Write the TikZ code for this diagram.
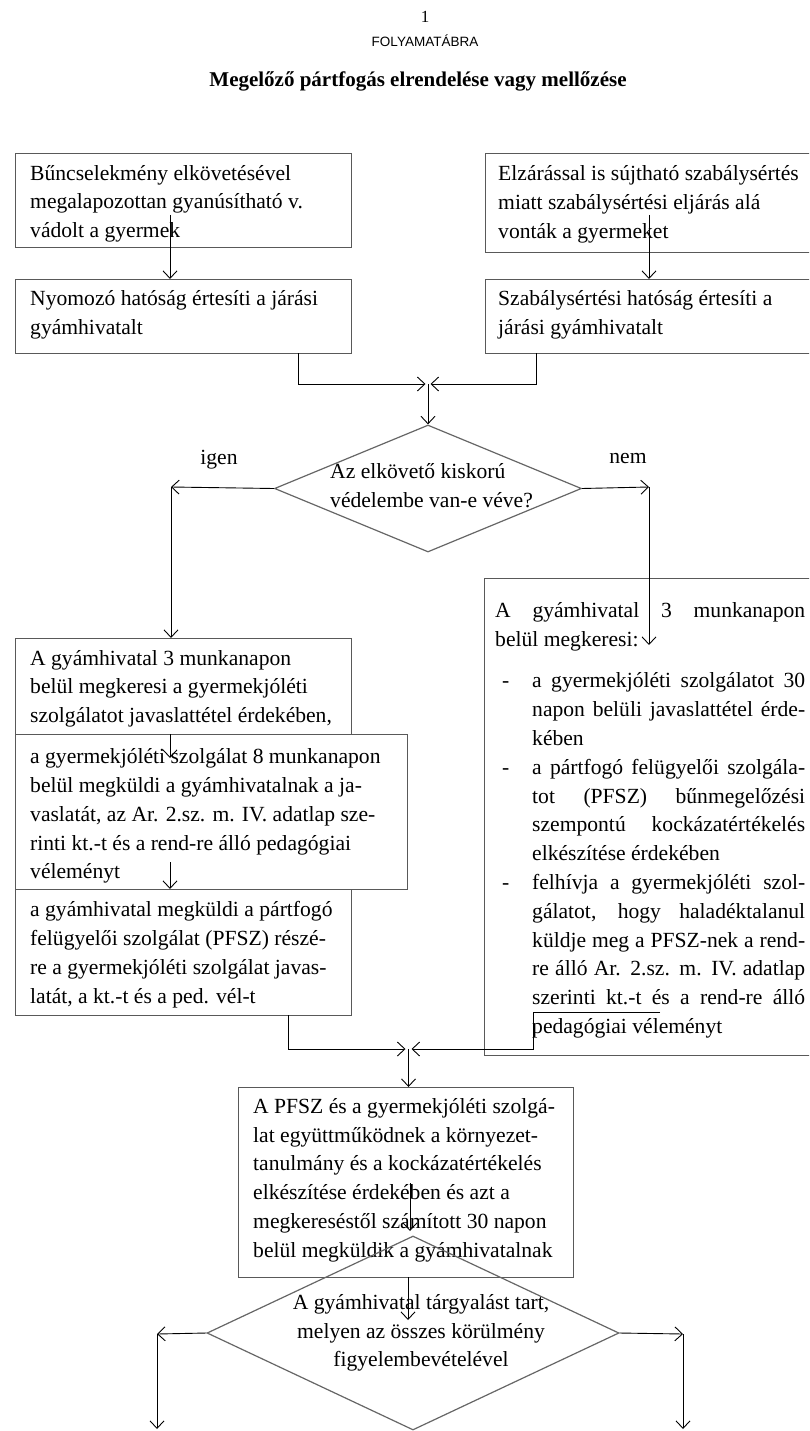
\documentclass[tikz,border=0pt]{standalone}
\usepackage{fontspec}
\setmainfont{Liberation Serif}
\newfontfamily\headsans{Liberation Sans}
\usetikzlibrary{arrows.meta,shapes.geometric,calc}
\newcommand{\bodyf}{\fontsize{21.6}{28.8}\selectfont}
\newcommand{\Fdash}[1]{\makebox[37pt][l]{\hspace*{7pt}-}\makebox[273pt][s]{#1}}
\newcommand{\Fcont}[1]{\hspace*{37pt}\makebox[273pt][s]{#1}}
\newcommand{\Flast}[1]{\hspace*{37pt}#1}
\begin{document}
\begin{tikzpicture}[x=1pt,y=-1pt,
  frame/.style={draw=black!65, line width=1.4pt, rectangle, anchor=north west, inner sep=0pt},
  txt/.style={font=\bodyf, align=left, inner sep=0pt, anchor=west},
  dia/.style={shape=diamond, draw=black!60, line width=1.2pt, inner sep=0pt},
  arr/.style={draw=black, line width=0.9pt, -{Straight Barb[length=7.5pt,width=14pt]}},
  lab/.style={font=\bodyf, inner sep=0pt}]
\useasboundingbox (0,0) rectangle (809,1431);
\fill[white] (0,0) rectangle (809,1431);
\clip (0,0) rectangle (809,1431);

% titles
\node[font=\fontsize{17}{19}\selectfont, inner sep=0pt] (num) at (425,17) {1};
\node[font=\headsans\fontsize{13.5}{16}\selectfont, inner sep=0pt] (fa) at (425,41) {FOLYAMATÁBRA};
\node[font=\bfseries\fontsize{21}{26}\selectfont, inner sep=0pt] (title) at (418,81) {Megelőző pártfogás elrendelése vagy mellőzése};

% boxes
\node[frame, minimum width=336pt, minimum height=94pt] (A) at (15,153) {};
\node[txt] (At) at ($(A.west)+(15,3)$) {Bűncselekmény elkövetésével\\megalapozottan gyanúsítható v.\\vádolt a gyermek};

\node[frame, minimum width=333pt, minimum height=99pt] (B) at (485,153) {};
\node[txt] (Bt) at ($(B.west)+(13,1)$) {Elzárással is sújtható szabálysértés\\miatt szabálysértési eljárás alá\\vonták a gyermeket};

\node[frame, minimum width=336pt, minimum height=74pt] (C) at (15,279) {};
\node[txt] (Ct) at ($(C.west)+(15,-1.5)$) {Nyomozó hatóság értesíti a járási\\gyámhivatalt};

\node[frame, minimum width=333pt, minimum height=74pt] (D) at (485,279) {};
\node[txt] (Dt) at ($(D.west)+(13,-1.5)$) {Szabálysértési hatóság értesíti a\\járási gyámhivatalt};

\node[frame, minimum width=336pt, minimum height=96pt] (E) at (15,638) {};
\node[txt] (Et) at ($(E.west)+(15,2)$) {A gyámhivatal 3 munkanapon\\belül megkeresi a gyermekjóléti\\szolgálatot javaslattétel érdekében,};

\node[frame, minimum width=392pt, minimum height=155pt] (H) at (15,734) {};
\node[txt] (Ht) at ($(H.west)+(15,4)$) {a gyermekjóléti szolgálat 8 munkanapon\\belül megküldi a gyámhivatalnak a ja-\\vaslatát, az Ar. 2.sz. m. IV. adatlap sze-\\rinti kt.-t és a rend-re álló pedagógiai\\véleményt};

\node[frame, minimum width=336pt, minimum height=126pt] (G) at (15,889) {};
\node[txt] (Gt) at ($(G.west)+(15,2)$) {a gyámhivatal megküldi a pártfogó\\felügyelői szolgálat (PFSZ) részé-\\re a gyermekjóléti szolgálat javas-\\latát, a kt.-t és a ped. vél-t};

\node[frame, minimum width=334pt, minimum height=477pt] (F) at (484,578) {};
\node[txt] (Ft) at ($(F.west)+(11,3)$) {\makebox[310pt][s]{A gyámhivatal 3 munkanapon}\\
belül megkeresi:\\[13pt]
\Fdash{a gyermekjóléti szolgálatot 30}\\
\Fcont{napon belüli javaslattétel érde-}\\
\Flast{kében}\\
\Fdash{a pártfogó felügyelői szolgála-}\\
\Fcont{tot (PFSZ) bűnmegelőzési}\\
\Fcont{szempontú kockázatértékelés}\\
\Flast{elkészítése érdekében}\\
\Fdash{felhívja a gyermekjóléti szol-}\\
\Fcont{gálatot, hogy haladéktalanul}\\
\Fcont{küldje meg a PFSZ-nek a rend-}\\
\Fcont{re álló Ar. 2.sz. m. IV. adatlap}\\
\Fcont{szerinti kt.-t és a rend-re álló}\\
\Flast{pedagógiai véleményt}};

\node[frame, minimum width=335pt, minimum height=190pt] (I) at (238,1087) {};
\node[txt] (It) at ($(I.west)+(15,-2.5)$) {A PFSZ és a gyermekjóléti szolgá-\\lat együttműködnek a környezet-\\tanulmány és a kockázatértékelés\\elkészítése érdekében és azt a\\megkereséstől számított 30 napon\\belül megküldik a gyámhivatalnak};

% diamonds
\node[dia, minimum width=307pt, minimum height=127pt] (d1) at (428,488.5) {};
\node[txt] (d1t) at (330,486) {Az elkövető kiskorú\\védelembe van-e véve?};
\node[dia, minimum width=412pt, minimum height=194pt] (d2) at (413,1333) {};
\node[font=\bodyf, align=center, inner sep=0pt] (d2t) at (421,1333) {A gyámhivatal tárgyalást tart,\\melyen az összes körülmény\\figyelembevételével};

% labels
\node[lab] (igen) at (219,460) {igen};
\node[lab] (nem) at (628,459) {nem};

% connectors
\coordinate (a1) at (170,215);
\draw[arr] (a1) -- (a1 |- C.north);
\coordinate (b1) at (649,215);
\draw[arr] (b1) -- (b1 |- D.north);

\coordinate (m1) at (428,384);
\coordinate (c1) at (298,353);
\coordinate (dd1) at (536,353);
\draw[arr] (c1) |- ([xshift=-2.5pt]m1);
\draw[arr] (dd1) |- ([xshift=2.5pt]m1);
\draw[arr] (m1) -- (m1 |- d1.north);

\coordinate (ig) at (171,487);
\draw[arr] (d1.west) -- (ig);
\draw[arr] (ig) -- (ig |- E.north);
\coordinate (ne) at (649,487);
\coordinate (ne2) at (649,645);
\draw[arr] (d1.east) -- (ne);
\draw[arr] (ne) -- (ne2);

\coordinate (e1) at (170,734);
\coordinate (e2) at (170,758);
\draw[arr] (e1) -- (e2);
\coordinate (h1) at (170,862);
\draw[arr] (h1) -- (h1 |- G.north);

\coordinate (m2) at (408.5,1049);
\coordinate (g1) at (288,1015);
\draw[arr] (g1) |- ([xshift=-3pt]m2);
\coordinate (f1) at (660,1012);
\coordinate (f2) at (533,1012);
\draw[arr] (f1) -- (f2) |- ([xshift=3pt]m2);
\draw[arr] (m2) -- (m2 |- I.north);

\coordinate (i1) at (410,1183);
\coordinate (i2) at (410,1231);
\draw[arr] (i1) -- (i2);
\coordinate (i3) at (408,1277);
\coordinate (i4) at (408,1320);
\draw[arr] (i3) -- (i4);

\coordinate (lt) at (157,1334);
\coordinate (lb) at (157,1429);
\draw[arr] (d2.west) -- (lt);
\draw[arr] (lt) -- (lb);
\coordinate (rt) at (683,1334);
\coordinate (rb) at (683,1429);
\draw[arr] (d2.east) -- (rt);
\draw[arr] (rt) -- (rb);
\end{tikzpicture}
\end{document}
